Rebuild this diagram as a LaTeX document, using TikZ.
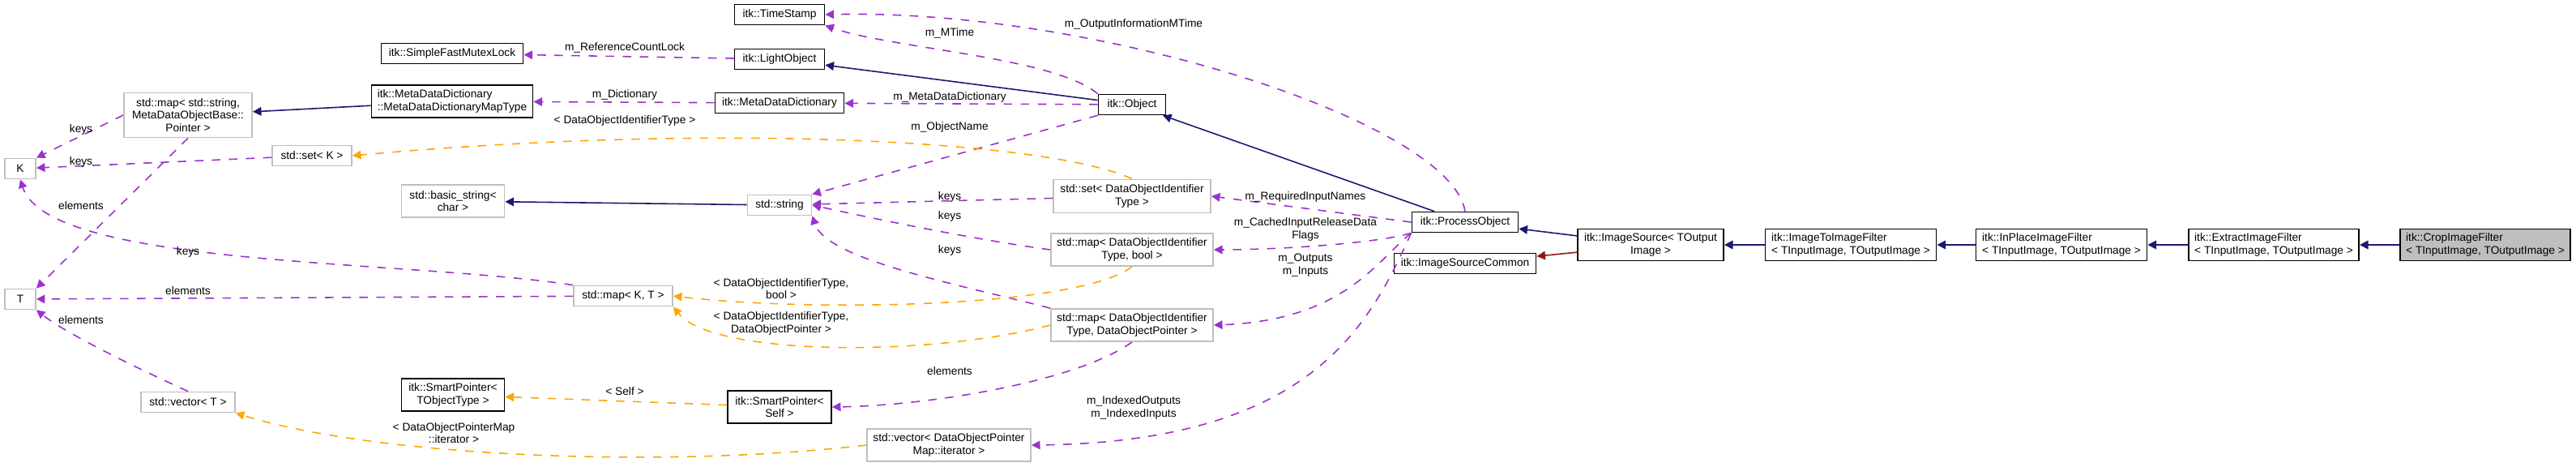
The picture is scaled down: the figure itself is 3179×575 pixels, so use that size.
\documentclass[tikz,border=0pt]{standalone}
\usepackage{fontspec}
\setmainfont{Liberation Sans}
\usetikzlibrary{arrows.meta}
\definecolor{navy}{HTML}{191970}
\definecolor{edgepurple}{HTML}{9A32CD}
\definecolor{edgeorange}{HTML}{FFA500}
\definecolor{edgered}{HTML}{8B1A1A}
\definecolor{undoc}{HTML}{BFBFBF}
\begin{document}
\begin{tikzpicture}[x=0.01cm,y=-0.01cm,
  every node/.style={font=\fontsize{3.9}{4.5}\selectfont,inner sep=1pt},
  cls/.style={draw=black,line width=0.5pt,align=center,minimum height=0.25cm},
  ext/.style={draw=undoc,line width=0.5pt,align=center,minimum height=0.25cm},
  lbl/.style={align=center},
  inh/.style={navy,line width=0.45pt,-{Triangle[length=3pt,width=3pt]}},
  use/.style={edgepurple,dashed,line width=0.45pt,-{Triangle[length=3pt,width=3pt]}},
  tpl/.style={edgeorange,dashed,line width=0.45pt,-{Triangle[length=3pt,width=3pt]}},
  prv/.style={edgered,line width=0.45pt,-{Triangle[length=3pt,width=3pt]}}]
  \useasboundingbox (0,0) rectangle (3179,575);
  % classes
  \node[cls,minimum width=1.75cm] (mutex) at (558,66) {itk::SimpleFastMutexLock};
  \node[cls,minimum width=1.99cm,minimum height=0.40cm,align=left] (mddmap) at (558,125) {itk::MetaDataDictionary\\::MetaDataDictionaryMapType};
  \node[ext,minimum width=1.58cm,minimum height=0.55cm] (mapstr) at (232,142) {std::map< std::string,\\ MetaDataObjectBase::\\Pointer >};
  \node[ext,minimum width=0.38cm] (K) at (25,208) {K};
  \node[ext,minimum width=0.98cm] (setK) at (385,192) {std::set< K >};
  \node[ext,minimum width=1.27cm,minimum height=0.40cm] (basicstr) at (559,248) {std::basic\_string<\\char >};
  \node[ext,minimum width=0.38cm] (T) at (25,369) {T};
  \node[ext,minimum width=1.22cm] (mapKT) at (769,365) {std::map< K, T >};
  \node[ext,minimum width=1.16cm] (vecT) at (232,496) {std::vector< T >};
  \node[cls,minimum width=1.27cm,minimum height=0.40cm] (sptobj) at (559,487) {itk::SmartPointer<\\TObjectType >};
  \node[cls,minimum width=1.11cm] (tstamp) at (962,18) {itk::TimeStamp};
  \node[cls,minimum width=1.11cm] (light) at (962,73) {itk::LightObject};
  \node[cls,minimum width=1.59cm] (mdd) at (962,127) {itk::MetaDataDictionary};
  \node[cls,minimum width=0.83cm] (object) at (1397,129) {itk::Object};
  \node[ext,minimum width=0.79cm] (string) at (962,253) {std::string};
  \node[ext,minimum width=1.94cm,minimum height=0.41cm] (setdoit) at (1397,242) {std::set< DataObjectIdentifier\\Type >};
  \node[ext,minimum width=2.00cm,minimum height=0.40cm] (mapbool) at (1397,308) {std::map< DataObjectIdentifier\\Type, bool >};
  \node[ext,minimum width=2.00cm,minimum height=0.40cm] (mapptr) at (1397,401) {std::map< DataObjectIdentifier\\Type, DataObjectPointer >};
  \node[cls,minimum width=1.28cm,minimum height=0.40cm] (spself) at (962,502) {itk::SmartPointer<\\Self >};
  \node[ext,minimum width=2.02cm,minimum height=0.40cm] (vecdopm) at (1171,549) {std::vector< DataObjectPointer\\Map::iterator >};
  \node[cls,minimum width=1.31cm] (process) at (1808,274) {itk::ProcessObject};
  \node[cls,minimum width=1.75cm] (common) at (1808,325) {itk::ImageSourceCommon};
  \node[cls,minimum width=1.80cm,minimum height=0.39cm] (source) at (2037,302) {itk::ImageSource< TOutput\\Image >};
  \node[cls,minimum width=2.11cm,minimum height=0.39cm,align=left] (i2i) at (2284,302) {itk::ImageToImageFilter\\< TInputImage, TOutputImage >};
  \node[cls,minimum width=2.11cm,minimum height=0.39cm,align=left] (inplace) at (2544,302) {itk::InPlaceImageFilter\\< TInputImage, TOutputImage >};
  \node[cls,minimum width=2.10cm,minimum height=0.39cm,align=left] (extract) at (2806,302) {itk::ExtractImageFilter\\< TInputImage, TOutputImage >};
  \node[cls,fill=undoc,minimum width=2.10cm,minimum height=0.39cm,align=left] (crop) at (3067,302) {itk::CropImageFilter\\< TInputImage, TOutputImage >};
  % inheritance
  \draw[inh] (object) -- (light);
  \draw[inh] (process) -- (object);
  \draw[inh] (source) -- (process);
  \draw[prv] (source) -- (common);
  \draw[inh] (i2i) -- (source);
  \draw[inh] (inplace) -- (i2i);
  \draw[inh] (extract) -- (inplace);
  \draw[inh] (crop) -- (extract);
  \draw[inh] (mddmap) -- (mapstr);
  \draw[inh] (string) -- (basicstr);
  % members
  \draw[use] (light) -- (mutex);
  \node[lbl] at (771,59) {m\_ReferenceCountLock};
  \draw[use] (mdd) -- (mddmap);
  \node[lbl] at (771,117) {m\_Dictionary};
  \draw[use] (object) -- (mdd);
  \node[lbl] at (1172,120) {m\_MetaDataDictionary};
  \draw[use] (object.north west) .. controls (1300,70) and (1100,60) .. (tstamp.south east);
  \node[lbl] at (1172,41) {m\_MTime};
  \draw[use] (process.north) .. controls (1790,150) and (1350,10) .. (tstamp.east);
  \node[lbl] at (1399,30) {m\_OutputInformationMTime};
  \draw[use] (object.south west) -- (string.north east);
  \node[lbl] at (1172,157) {m\_ObjectName};
  \draw[use] (setdoit) -- (string);
  \node[lbl] at (1172,243) {keys};
  \draw[use] (mapbool.west) .. controls (1200,295) and (1080,270) .. (string.east);
  \node[lbl] at (1172,267) {keys};
  \draw[use] (mapptr.north west) .. controls (1180,350) and (1020,320) .. (string.south east);
  \node[lbl] at (1172,309) {keys};
  \draw[use] (process.west) -- (setdoit.east);
  \node[lbl] at (1611,243) {m\_RequiredInputNames};
  \draw[use] (process.south west) .. controls (1700,300) and (1580,308) .. (mapbool.east);
  \node[lbl] at (1611,283) {m\_CachedInputReleaseData\\Flags};
  \draw[use] (process.south west) .. controls (1700,320) and (1660,395) .. (mapptr.east);
  \node[lbl] at (1611,327) {m\_Outputs\\m\_Inputs};
  \draw[use] (process.south west) .. controls (1690,400) and (1620,545) .. (vecdopm.east);
  \node[lbl] at (1399,503) {m\_IndexedOutputs\\m\_IndexedInputs};
  \draw[use] (mapptr.south) .. controls (1330,470) and (1150,500) .. (spself.east);
  \node[lbl] at (1172,458) {elements};
  \draw[use] (mapstr.west) -- (K.north east);
  \node[lbl] at (100,160) {keys};
  \draw[use] (setK) -- (K);
  \node[lbl] at (100,200) {keys};
  \draw[use] (mapstr.south) -- (T.north east);
  \node[lbl] at (100,254) {elements};
  \draw[use] (mapKT.north west) .. controls (500,320) and (60,330) .. (K.south);
  \node[lbl] at (232,311) {keys};
  \draw[use] (mapKT) -- (T);
  \node[lbl] at (232,359) {elements};
  \draw[use] (vecT.north) .. controls (160,450) and (80,410) .. (T.south east);
  \node[lbl] at (100,395) {elements};
  % template instances
  \draw[tpl] (setdoit.north) .. controls (1300,175) and (900,150) .. (setK.east);
  \node[lbl] at (771,149) {< DataObjectIdentifierType >};
  \draw[tpl] (mapbool.south) .. controls (1330,380) and (1000,385) .. (mapKT.east);
  \node[lbl] at (964,356) {< DataObjectIdentifierType,\\bool >};
  \draw[tpl] (mapptr.west) .. controls (1150,440) and (880,440) .. (mapKT.south east);
  \node[lbl] at (964,399) {< DataObjectIdentifierType,\\DataObjectPointer >};
  \draw[tpl] (spself) -- (sptobj);
  \node[lbl] at (771,483) {< Self >};
  \draw[tpl] (vecdopm.west) .. controls (800,580) and (450,560) .. (vecT.south east);
  \node[lbl] at (560,534) {< DataObjectPointerMap\\::iterator >};
\end{tikzpicture}
\end{document}
